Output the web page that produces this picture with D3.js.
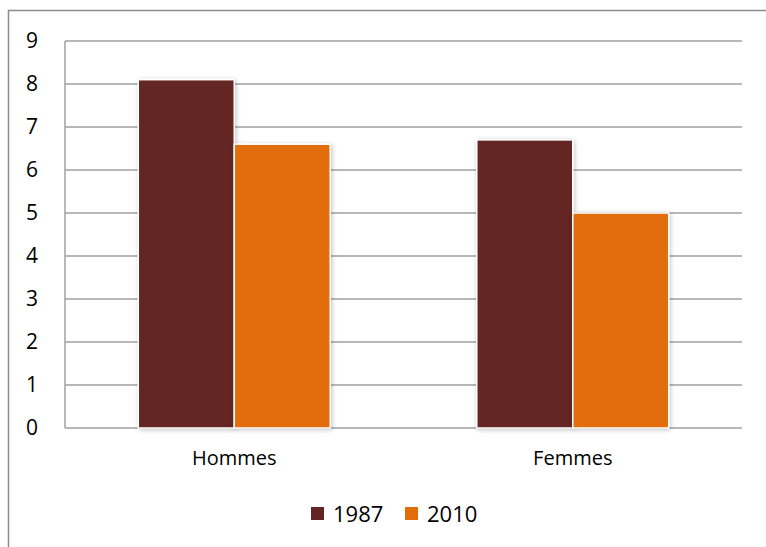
<!DOCTYPE html>
<html><head><meta charset="utf-8">
<script src="https://cdn.jsdelivr.net/npm/d3@7"></script>
<style>body{margin:0;background:#fff}svg{display:block;font-family:"Open Sans",sans-serif}</style>
</head><body>
<svg id="c" width="766" height="547"></svg>
<script>
const categories = ["Hommes", "Femmes"];
const seriesNames = ["1987", "2010"];
const values1987 = [8.1, 6.7];
const values2010 = [6.6, 5.0];
const yTicks = [0,1,2,3,4,5,6,7,8,9];
const colors = ["#632523", "#e36c0a"];

const svg = d3.select("#c");
svg.append("rect").attr("x",8.5).attr("y",10.5).attr("width",780).attr("height",560)
  .attr("fill","#fff").attr("stroke","#8c8c8c").attr("stroke-width",1.5);

const m = {l:65, r:742, t:41, b:428};
const y = d3.scaleLinear().domain([0,9]).range([m.b, m.t]);
const x0 = d3.scaleBand().domain(categories).range([m.l, m.r]).paddingInner(0.433).paddingOuter(0.2165);
const x1 = d3.scaleBand().domain(seriesNames).range([0, x0.bandwidth()]).padding(0);

svg.append("g").selectAll("line").data(yTicks).join("line")
  .attr("x1", m.l).attr("x2", m.r).attr("y1", d=>y(d)).attr("y2", d=>y(d))
  .attr("stroke","#a0a0a0").attr("stroke-width",1.5);
svg.append("line").attr("x1",m.l).attr("x2",m.l).attr("y1",m.t).attr("y2",m.b)
  .attr("stroke","#a0a0a0").attr("stroke-width",1.5);

const yAxis = d3.axisLeft(y).tickValues(yTicks).tickSize(0).tickPadding(0);
const ya = svg.append("g").attr("transform","translate(40,0)").call(yAxis);
ya.select(".domain").remove();
ya.selectAll("text").attr("font-size",21).attr("fill","#000").attr("text-anchor","middle").attr("x",-8).attr("font-family","Open Sans");

const defs = svg.append("defs");
const f = defs.append("filter").attr("id","sh").attr("x","-10%").attr("y","-10%").attr("width","130%").attr("height","130%");
f.append("feGaussianBlur").attr("in","SourceAlpha").attr("stdDeviation",2.5).attr("result","b");
f.append("feOffset").attr("in","b").attr("dx",1).attr("dy",1).attr("result","o");
f.append("feComponentTransfer").attr("in","o").attr("result","o2").append("feFuncA").attr("type","linear").attr("slope",0.25);
const fm = f.append("feMerge"); fm.append("feMergeNode").attr("in","o2"); fm.append("feMergeNode").attr("in","SourceGraphic");

const data = categories.map((c,i)=>({cat:c, vals:[{s:"1987",v:values1987[i],c:colors[0]},{s:"2010",v:values2010[i],c:colors[1]}]}));
const g = svg.append("g").selectAll("g").data(data).join("g").attr("transform", d=>`translate(${x0(d.cat)},0)`);
g.selectAll("rect").data(d=>d.vals).join("rect")
  .attr("x", d=>x1(d.s)).attr("width", x1.bandwidth())
  .attr("y", d=>y(d.v)).attr("height", d=>y(0)-y(d.v))
  .attr("fill", d=>d.c).attr("stroke","#fff").attr("stroke-width",1.5).attr("filter","url(#sh)");

const xAxis = d3.axisBottom(x0).tickSize(0).tickPadding(0);
const xa = svg.append("g").attr("transform",`translate(0,${m.b})`).call(xAxis);
xa.select(".domain").remove();
xa.selectAll("text").attr("font-size",20).attr("fill","#000").attr("y",30).attr("dy","0.35em").attr("font-family","Open Sans");

const leg = svg.append("g");
const legX = [311, 405];
seriesNames.forEach((s,i)=>{
  leg.append("rect").attr("x",legX[i]).attr("y",507).attr("width",13).attr("height",13).attr("fill",colors[i]);
  leg.append("text").attr("x",legX[i]+22).attr("y",514).attr("dy","0.35em").attr("font-size",22).attr("fill","#000").text(s);
});
</script>
</body></html>
